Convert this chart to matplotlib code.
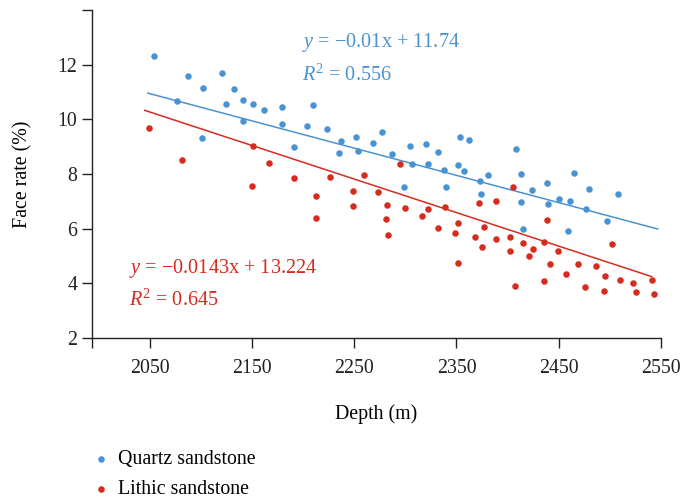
import numpy as np
import matplotlib
matplotlib.use("Agg")
import matplotlib.pyplot as plt

plt.rcParams["font.family"] = ["Liberation Serif", "DejaVu Serif"]
plt.rcParams["mathtext.fontset"] = "custom"
plt.rcParams["mathtext.rm"] = "Liberation Serif"
plt.rcParams["mathtext.it"] = "Liberation Serif:italic"

BLUE = "#4a93d3"
RED = "#d62b1f"

# quartz sandstone: depth (m), face rate (%)
quartz_depth = [2054, 2077, 2087, 2102, 2101, 2121, 2125, 2132, 2141, 2141,
                2151, 2162, 2179, 2179, 2191, 2204, 2210, 2223, 2235, 2237,
                2252, 2254, 2268, 2277, 2287, 2305, 2307, 2320, 2322, 2332,
                2338, 2353, 2362, 2352, 2357, 2299, 2340, 2373, 2374, 2381,
                2408, 2413, 2413, 2415, 2424, 2439, 2440, 2450, 2461, 2465,
                2480, 2477, 2459, 2497, 2508]
quartz_rate = [12.33, 10.67, 11.60, 11.16, 9.30, 11.71, 10.57, 11.10, 10.69, 9.94,
               10.57, 10.33, 10.44, 9.83, 9.00, 9.74, 10.51, 9.66, 8.77, 9.21,
               9.34, 8.84, 9.12, 9.52, 8.75, 9.02, 8.36, 9.10, 8.35, 8.79,
               8.13, 9.37, 9.26, 8.34, 8.12, 7.53, 7.54, 7.73, 7.27, 7.97,
               8.93, 8.01, 6.96, 6.00, 7.40, 7.67, 6.92, 7.08, 7.02, 8.05,
               7.45, 6.73, 5.93, 6.30, 7.26]

# lithic sandstone
lithic_depth = [2049, 2081, 2151, 2150, 2167, 2191, 2213, 2226, 2249, 2260,
                2273, 2213, 2249, 2282, 2281, 2283, 2300, 2316, 2322, 2295,
                2332, 2339, 2349, 2352, 2352, 2368, 2372, 2375, 2377, 2389,
                2389, 2402, 2402, 2405, 2415, 2407, 2421, 2425, 2436, 2439,
                2442, 2449, 2436, 2457, 2469, 2476, 2487, 2495, 2494, 2502,
                2510, 2523, 2526, 2541, 2543]
lithic_rate = [9.68, 8.51, 9.01, 7.58, 8.40, 7.87, 7.19, 7.89, 7.37, 7.95,
               7.34, 6.40, 6.82, 6.86, 6.37, 5.78, 6.76, 6.45, 6.73, 8.36,
               6.02, 6.79, 5.86, 6.22, 4.74, 5.71, 6.93, 5.32, 6.05, 7.01,
               5.62, 5.71, 5.18, 7.52, 5.48, 3.89, 4.99, 5.25, 5.53, 6.33,
               4.70, 5.17, 4.09, 4.36, 4.71, 3.86, 4.64, 4.29, 3.73, 5.43,
               4.14, 4.03, 3.69, 4.12, 3.60]

# trend lines as drawn (end points)
quartz_fit_x = [2048, 2547]
quartz_fit_y = [10.96, 5.99]
lithic_fit_x = [2045, 2541]
lithic_fit_y = [10.33, 4.25]

fig = plt.figure(figsize=(6.82, 4.98), dpi=100)
ax = fig.add_axes([0.135, 0.321, 0.834, 0.659])

ax.scatter(quartz_depth, quartz_rate, s=22, color=BLUE, linewidths=0,
           label="Quartz sandstone", zorder=3)
ax.scatter(lithic_depth, lithic_rate, s=22, color=RED, linewidths=0,
           label="Lithic sandstone", zorder=3)
ax.plot(quartz_fit_x, quartz_fit_y, color=BLUE, lw=1.1, zorder=2)
ax.plot(lithic_fit_x, lithic_fit_y, color=RED, lw=1.1, zorder=2)

eq_fs = 14.6
ax.text(2199, 12.8, "$y$ = \u22120.01x + 11.74", color=BLUE, fontsize=eq_fs, va="center")
ax.text(2199, 11.6, "$R^2$ = 0.556", color=BLUE, fontsize=eq_fs, va="center")
ax.text(2030, 4.56, "$y$ = \u22120.0143x + 13.224", color=RED, fontsize=eq_fs, va="center")
ax.text(2030, 3.37, "$R^2$ = 0.645", color=RED, fontsize=eq_fs, va="center")

ax.set_xlim(1993.5, 2550)
ax.set_ylim(2, 14)
ax.set_xticks([1993.5, 2050, 2150, 2250, 2350, 2450, 2550])
ax.set_xticklabels(["", "2050", "2150", "2250", "2350", "2450", "2550"])
ax.set_yticks([2, 4, 6, 8, 10, 12, 14])
ax.set_yticklabels(["2", "4", "6", "8", "10", "12", ""])
ax.tick_params(direction="out", length=7, width=1, labelsize=14.3, colors="#222222")
ax.tick_params(axis="x", pad=8)
for side in ("top", "right"):
    ax.spines[side].set_visible(False)
for side in ("left", "bottom"):
    ax.spines[side].set_linewidth(1)
    ax.spines[side].set_color("#222222")

ax.set_xlabel("Depth (m)", fontsize=14.3, labelpad=19)
ax.set_ylabel("Face rate (%)", fontsize=14.3, labelpad=18)

fig.legend(loc="upper left", bbox_to_anchor=(0.12, 0.112), frameon=False,
           fontsize=14.3, handletextpad=0.3, labelspacing=0.55, markerscale=1.0,
           borderaxespad=0, handlelength=1.1)

fig.savefig("out.png", dpi=100)
plt.close(fig)
